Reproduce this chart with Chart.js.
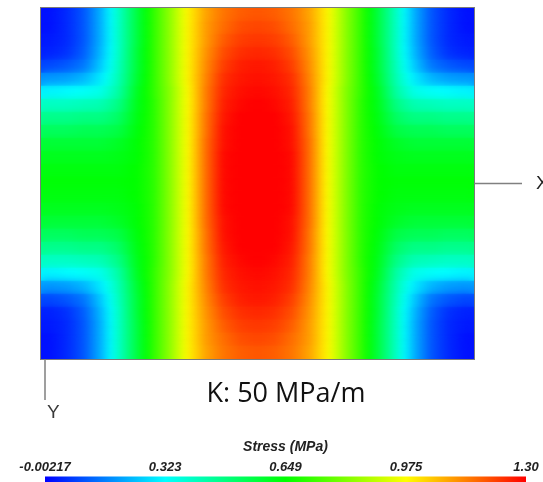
<!DOCTYPE html>
<html>
<head>
    <title>Stress field, K: 50 MPa/m</title>
    <script src="https://cdn.jsdelivr.net/npm/chart.js@4.4.1/dist/chart.umd.min.js"></script>
    <style>
        html, body {
            margin: 0;
            padding: 0;
            background: #fff;
            width: 543px;
            height: 482px;
            overflow: hidden;
        }
        #field {
            position: absolute;
            left: 0;
            top: 0;
        }
        #legendBar {
            position: absolute;
            left: 0;
            top: 430px;
        }
        .lbl {
            position: absolute;
            white-space: nowrap;
            font-family: "Liberation Sans", Arial, sans-serif;
            color: #3a3a3a;
        }
        #caseLabel {
            left: 286px;
            top: 378px;
            transform: translateX(-50%);
            font-family: "Open Sans", "Noto Sans", sans-serif;
            font-size: 27px;
            line-height: 27px;
            color: #111;
        }
        #axisX {
            left: 536px;
            top: 173px;
            font-size: 19px;
            line-height: 20px;
            color: #222;
        }
        #axisY {
            left: 47px;
            top: 402px;
            font-size: 19px;
            line-height: 20px;
        }
    </style>
</head>
<body>
    <canvas id="field" width="543" height="430"></canvas>
    <canvas id="legendBar" width="543" height="120"></canvas>
    <div class="lbl" id="caseLabel">K: 50 MPa/m</div>
    <div class="lbl" id="axisX">X</div>
    <div class="lbl" id="axisY">Y</div>

    <script>
        // colour scale limits and legend ticks (MPa)
        const stressMin = -0.00217;
        const stressMax = 1.30;
        const legendTicks = [-0.00217, 0.323, 0.649, 0.975, 1.30];
        const legendLabels = ['-0.00217', '0.323', '0.649', '0.975', '1.30'];

        // stress, 27 rows (top to bottom) x 25 columns (left to right)
        const stressGrid = [
            [0.02, 0.05, 0.11, 0.23, 0.40, 0.56, 0.71, 0.84, 0.99, 1.09, 1.15, 1.18, 1.19, 1.18, 1.15, 1.09, 0.99, 0.84, 0.71, 0.56, 0.40, 0.23, 0.11, 0.05, 0.02],
            [0.02, 0.05, 0.11, 0.23, 0.40, 0.56, 0.71, 0.84, 0.99, 1.10, 1.16, 1.20, 1.21, 1.20, 1.16, 1.10, 0.99, 0.84, 0.71, 0.56, 0.40, 0.23, 0.11, 0.05, 0.02],
            [0.03, 0.05, 0.11, 0.23, 0.40, 0.56, 0.71, 0.84, 0.99, 1.10, 1.18, 1.22, 1.23, 1.22, 1.18, 1.10, 0.99, 0.84, 0.71, 0.56, 0.40, 0.23, 0.11, 0.05, 0.03],
            [0.04, 0.06, 0.12, 0.24, 0.40, 0.57, 0.71, 0.84, 0.99, 1.11, 1.20, 1.24, 1.25, 1.24, 1.20, 1.11, 0.99, 0.84, 0.71, 0.57, 0.40, 0.24, 0.12, 0.06, 0.04],
            [0.09, 0.11, 0.15, 0.26, 0.41, 0.57, 0.71, 0.84, 0.99, 1.12, 1.22, 1.26, 1.27, 1.26, 1.22, 1.12, 0.99, 0.84, 0.71, 0.57, 0.41, 0.26, 0.15, 0.11, 0.09],
            [0.19, 0.20, 0.23, 0.30, 0.42, 0.58, 0.71, 0.84, 0.99, 1.13, 1.24, 1.27, 1.28, 1.27, 1.24, 1.13, 0.99, 0.84, 0.71, 0.58, 0.42, 0.30, 0.23, 0.20, 0.19],
            [0.31, 0.32, 0.33, 0.35, 0.44, 0.60, 0.71, 0.83, 0.98, 1.14, 1.25, 1.28, 1.29, 1.28, 1.25, 1.14, 0.98, 0.83, 0.71, 0.60, 0.44, 0.35, 0.33, 0.32, 0.31],
            [0.40, 0.40, 0.41, 0.42, 0.48, 0.61, 0.70, 0.83, 0.98, 1.14, 1.26, 1.29, 1.30, 1.29, 1.26, 1.14, 0.98, 0.83, 0.70, 0.61, 0.48, 0.42, 0.41, 0.40, 0.40],
            [0.47, 0.47, 0.48, 0.48, 0.52, 0.62, 0.70, 0.83, 0.98, 1.15, 1.27, 1.30, 1.30, 1.30, 1.27, 1.15, 0.98, 0.83, 0.70, 0.62, 0.52, 0.48, 0.48, 0.47, 0.47],
            [0.53, 0.53, 0.54, 0.54, 0.56, 0.63, 0.70, 0.83, 0.98, 1.15, 1.28, 1.30, 1.30, 1.30, 1.28, 1.15, 0.98, 0.83, 0.70, 0.63, 0.56, 0.54, 0.54, 0.53, 0.53],
            [0.58, 0.58, 0.58, 0.58, 0.60, 0.64, 0.70, 0.83, 0.98, 1.16, 1.28, 1.30, 1.30, 1.30, 1.28, 1.16, 0.98, 0.83, 0.70, 0.64, 0.60, 0.58, 0.58, 0.58, 0.58],
            [0.61, 0.61, 0.61, 0.61, 0.62, 0.64, 0.70, 0.83, 0.98, 1.16, 1.29, 1.30, 1.30, 1.30, 1.29, 1.16, 0.98, 0.83, 0.70, 0.64, 0.62, 0.61, 0.61, 0.61, 0.61],
            [0.63, 0.63, 0.63, 0.63, 0.63, 0.65, 0.70, 0.83, 0.98, 1.16, 1.29, 1.30, 1.30, 1.30, 1.29, 1.16, 0.98, 0.83, 0.70, 0.65, 0.63, 0.63, 0.63, 0.63, 0.63],
            [0.64, 0.64, 0.64, 0.64, 0.64, 0.65, 0.70, 0.83, 0.98, 1.16, 1.29, 1.30, 1.30, 1.30, 1.29, 1.16, 0.98, 0.83, 0.70, 0.65, 0.64, 0.64, 0.64, 0.64, 0.64],
            [0.63, 0.63, 0.63, 0.63, 0.63, 0.65, 0.70, 0.83, 0.98, 1.16, 1.29, 1.30, 1.30, 1.30, 1.29, 1.16, 0.98, 0.83, 0.70, 0.65, 0.63, 0.63, 0.63, 0.63, 0.63],
            [0.61, 0.61, 0.61, 0.61, 0.62, 0.64, 0.70, 0.83, 0.98, 1.16, 1.29, 1.30, 1.30, 1.30, 1.29, 1.16, 0.98, 0.83, 0.70, 0.64, 0.62, 0.61, 0.61, 0.61, 0.61],
            [0.58, 0.58, 0.58, 0.58, 0.60, 0.64, 0.70, 0.83, 0.98, 1.16, 1.28, 1.30, 1.30, 1.30, 1.28, 1.16, 0.98, 0.83, 0.70, 0.64, 0.60, 0.58, 0.58, 0.58, 0.58],
            [0.53, 0.53, 0.54, 0.54, 0.56, 0.63, 0.70, 0.83, 0.98, 1.15, 1.28, 1.30, 1.30, 1.30, 1.28, 1.15, 0.98, 0.83, 0.70, 0.63, 0.56, 0.54, 0.54, 0.53, 0.53],
            [0.47, 0.47, 0.48, 0.48, 0.52, 0.62, 0.70, 0.83, 0.98, 1.15, 1.27, 1.30, 1.30, 1.30, 1.27, 1.15, 0.98, 0.83, 0.70, 0.62, 0.52, 0.48, 0.48, 0.47, 0.47],
            [0.40, 0.40, 0.41, 0.42, 0.48, 0.61, 0.70, 0.83, 0.98, 1.14, 1.26, 1.29, 1.30, 1.29, 1.26, 1.14, 0.98, 0.83, 0.70, 0.61, 0.48, 0.42, 0.41, 0.40, 0.40],
            [0.31, 0.32, 0.33, 0.35, 0.44, 0.60, 0.71, 0.83, 0.98, 1.14, 1.25, 1.28, 1.29, 1.28, 1.25, 1.14, 0.98, 0.83, 0.71, 0.60, 0.44, 0.35, 0.33, 0.32, 0.31],
            [0.19, 0.20, 0.23, 0.30, 0.42, 0.58, 0.71, 0.84, 0.99, 1.13, 1.24, 1.27, 1.28, 1.27, 1.24, 1.13, 0.99, 0.84, 0.71, 0.58, 0.42, 0.30, 0.23, 0.20, 0.19],
            [0.09, 0.11, 0.15, 0.26, 0.41, 0.57, 0.71, 0.84, 0.99, 1.12, 1.22, 1.26, 1.27, 1.26, 1.22, 1.12, 0.99, 0.84, 0.71, 0.57, 0.41, 0.26, 0.15, 0.11, 0.09],
            [0.04, 0.06, 0.12, 0.24, 0.40, 0.57, 0.71, 0.84, 0.99, 1.11, 1.20, 1.24, 1.25, 1.24, 1.20, 1.11, 0.99, 0.84, 0.71, 0.57, 0.40, 0.24, 0.12, 0.06, 0.04],
            [0.03, 0.05, 0.11, 0.23, 0.40, 0.56, 0.71, 0.84, 0.99, 1.10, 1.18, 1.22, 1.23, 1.22, 1.18, 1.10, 0.99, 0.84, 0.71, 0.56, 0.40, 0.23, 0.11, 0.05, 0.03],
            [0.02, 0.05, 0.11, 0.23, 0.40, 0.56, 0.71, 0.84, 0.99, 1.10, 1.16, 1.20, 1.21, 1.20, 1.16, 1.10, 0.99, 0.84, 0.71, 0.56, 0.40, 0.23, 0.11, 0.05, 0.02],
            [0.02, 0.05, 0.11, 0.23, 0.40, 0.56, 0.71, 0.84, 0.99, 1.09, 1.15, 1.18, 1.19, 1.18, 1.15, 1.09, 0.99, 0.84, 0.71, 0.56, 0.40, 0.23, 0.11, 0.05, 0.02]
        ];

        const nCols = stressGrid[0].length;
        const rowLabels = stressGrid.map((_, i) => 'row ' + (i + 1));
        const colCenters = stressGrid[0].map((_, j) => j + 0.5);

        // blue - cyan - green - yellow - red, like the legend
        const mapColors = [[0, 0, 255], [0, 255, 255], [0, 255, 0], [255, 255, 0], [255, 0, 0]];

        function stressColor(v) {
            let t = (v - stressMin) / (stressMax - stressMin);
            t = Math.max(0, Math.min(1, t)) * (mapColors.length - 1);
            const k = Math.min(Math.floor(t), mapColors.length - 2);
            const f = t - k;
            const a = mapColors[k], b = mapColors[k + 1];
            const c = a.map((ch, n) => Math.round(ch + (b[n] - ch) * f));
            return 'rgb(' + c.join(',') + ')';
        }

        // each row is one bar, shaded left to right through its column values
        function rowGradient(context) {
            const chart = context.chart;
            const area = chart.chartArea;
            if (!area || context.dataIndex === undefined) return 'rgba(0,0,0,0)';
            const xs = chart.scales.x;
            const row = stressGrid[context.dataIndex];
            const w = area.right - area.left;
            const g = chart.ctx.createLinearGradient(area.left, 0, area.right, 0);
            const sub = 4;
            for (let j = 0; j < row.length; j++) {
                const p0 = (xs.getPixelForValue(colCenters[j]) - area.left) / w;
                if (j === row.length - 1) {
                    g.addColorStop(p0, stressColor(row[j]));
                    break;
                }
                const p1 = (xs.getPixelForValue(colCenters[j + 1]) - area.left) / w;
                for (let s = 0; s < sub; s++) {
                    const f = s / sub;
                    g.addColorStop(p0 + (p1 - p0) * f, stressColor(row[j] + (row[j + 1] - row[j]) * f));
                }
            }
            return g;
        }

        function legendGradient(context) {
            const chart = context.chart;
            const area = chart.chartArea;
            if (!area) return 'rgba(0,0,0,0)';
            const xs = chart.scales.x;
            const g = chart.ctx.createLinearGradient(area.left, 0, area.right, 0);
            legendTicks.forEach((v, i) => {
                const p = (xs.getPixelForValue(v) - area.left) / (area.right - area.left);
                g.addColorStop(Math.max(0, Math.min(1, p)), 'rgb(' + mapColors[i].join(',') + ')');
            });
            return g;
        }

        // second, softened pass over the row bars so the rows blend like the contour plot
        const smoothPlugin = {
            id: 'smooth',
            afterDatasetsDraw(chart) {
                const { ctx, chartArea: a } = chart;
                ctx.save();
                ctx.beginPath();
                ctx.rect(a.left, a.top, a.right - a.left, a.bottom - a.top);
                ctx.clip();
                ctx.filter = 'blur(5px)';
                chart.getDatasetMeta(0).controller.draw();
                ctx.restore();
            }
        };

        const framePlugin = {
            id: 'frame',
            afterDraw(chart) {
                const { ctx, chartArea: a } = chart;
                const midY = (a.top + a.bottom) / 2;
                ctx.save();
                ctx.strokeStyle = '#7a7a7a';
                ctx.lineWidth = 1;
                ctx.strokeRect(a.left - 0.5, a.top - 0.5, a.right - a.left + 1, a.bottom - a.top + 1);
                ctx.lineWidth = 1.5;
                ctx.strokeStyle = '#808080';
                ctx.beginPath();
                ctx.moveTo(a.right, midY);
                ctx.lineTo(a.right + 48, midY);
                ctx.moveTo(a.left + 4, a.bottom);
                ctx.lineTo(a.left + 4, a.bottom + 41);
                ctx.stroke();
                ctx.restore();
            }
        };

        function initField() {
            new Chart(document.getElementById('field'), {
                type: 'bar',
                data: {
                    labels: rowLabels,
                    datasets: [{
                        label: 'Stress (MPa)',
                        data: rowLabels.map(() => [0, nCols]),
                        backgroundColor: rowGradient,
                        borderWidth: 0,
                        barPercentage: 1,
                        categoryPercentage: 1
                    }]
                },
                options: {
                    indexAxis: 'y',
                    responsive: false,
                    animation: false,
                    devicePixelRatio: 1,
                    events: [],
                    layout: { padding: { left: 41, top: 8, right: 69, bottom: 71 } },
                    plugins: { legend: { display: false }, tooltip: { enabled: false } },
                    scales: {
                        x: { type: 'linear', min: 0, max: nCols, display: false },
                        y: { type: 'category', display: false }
                    }
                },
                plugins: [smoothPlugin, framePlugin]
            });
        }

        function initLegend() {
            new Chart(document.getElementById('legendBar'), {
                type: 'bar',
                data: {
                    labels: [''],
                    datasets: [{
                        data: [[stressMin, stressMax]],
                        backgroundColor: legendGradient,
                        borderWidth: 0,
                        barPercentage: 1,
                        categoryPercentage: 1
                    }]
                },
                options: {
                    indexAxis: 'y',
                    responsive: false,
                    animation: false,
                    devicePixelRatio: 1,
                    events: [],
                    layout: { padding: { left: 45, top: 9, right: 17, bottom: 0 } },
                    plugins: { legend: { display: false }, tooltip: { enabled: false } },
                    scales: {
                        x: {
                            type: 'linear',
                            position: 'top',
                            min: stressMin,
                            max: stressMax,
                            afterBuildTicks: (scale) => {
                                scale.ticks = legendTicks.map(v => ({ value: v }));
                            },
                            grid: { display: false, drawTicks: false },
                            border: { display: false },
                            ticks: {
                                autoSkip: false,
                                maxRotation: 0,
                                padding: 1,
                                color: '#222',
                                font: { family: '"Liberation Sans", Arial, sans-serif', size: 13, style: 'italic', weight: 'bold' },
                                callback: (v, i) => legendLabels[i]
                            },
                            title: {
                                display: true,
                                text: 'Stress (MPa)',
                                color: '#222',
                                padding: { top: 0, bottom: 3 },
                                font: { family: '"Liberation Sans", Arial, sans-serif', size: 14, style: 'italic', weight: 'bold' }
                            }
                        },
                        y: { type: 'category', display: false }
                    }
                }
            });
        }

        window.onload = function() {
            initField();
            initLegend();
        };
    </script>
</body>
</html>
